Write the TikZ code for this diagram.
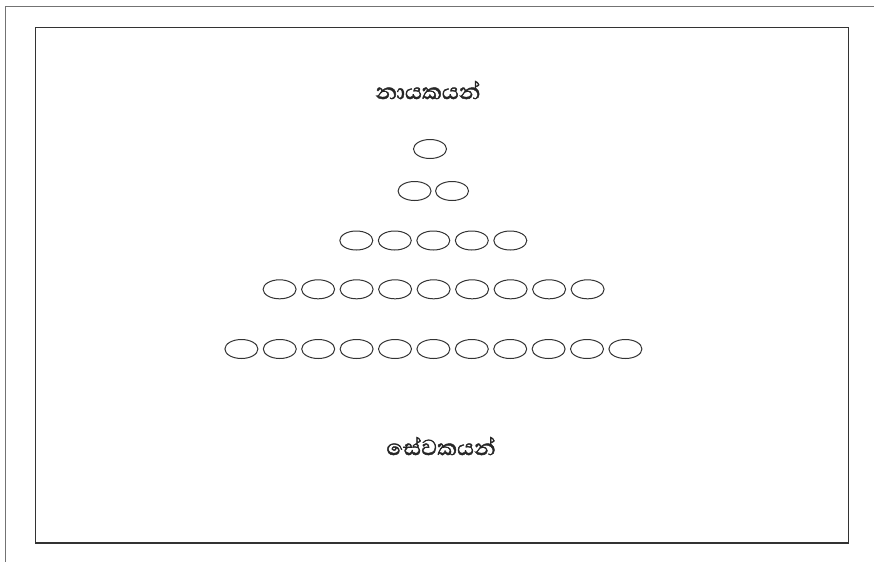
\documentclass[tikz,border=0pt]{standalone}
\usepackage{fontspec}
\usetikzlibrary{shapes.geometric}
\newfontfamily\sinhalafont[Script=Sinhala,FakeBold=1.6]{Abhaya Libre}
\begin{document}
\begin{tikzpicture}[x=1pt,y=-1pt,
  oval/.style={draw=black!80,line width=1pt,ellipse,minimum width=33pt,minimum height=19pt,inner sep=0pt},
  frameline/.style={draw=black!55,line width=1.5pt},
  innerframe/.style={draw=black!80,line width=1.6pt},
  lbl/.style={font=\sinhalafont\fontsize{28}{30}\selectfont,text=black!85,inner sep=0pt}]
\useasboundingbox (0,0) rectangle (874,562);
\coordinate (tl) at (5.5,6.5);
\coordinate (tr) at (874,6.5);
\coordinate (bl) at (5.5,562);
\draw[frameline] (tr) -- (tl) -- (bl);
\draw[innerframe] (35.5,27.5) rectangle (848.5,543);
\node[lbl] (top) at (428,90) {නායකයන්};
\node[lbl] (bottom) at (441,446) {සේවකයන්};
\node[oval] (r1c1) at (430,149) {};
\foreach \i in {1,2} \node[oval] (r2c\i) at ({433.3+(\i-1.5)*37.5},191) {};
\foreach \i in {1,...,5} \node[oval] (r3c\i) at ({433.3+(\i-3)*38.5},240.5) {};
\foreach \i in {1,...,9} \node[oval] (r4c\i) at ({433.6+(\i-5)*38.5},289.3) {};
\foreach \i in {1,...,11} \node[oval] (r5c\i) at ({433.4+(\i-6)*38.4},349) {};
\end{tikzpicture}
\end{document}
